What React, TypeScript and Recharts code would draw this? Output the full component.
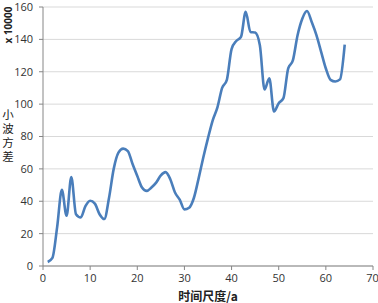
import React from 'react';
import { LineChart, Line, XAxis, YAxis, CartesianGrid } from 'recharts';

// 时间尺度 (a)
const scales = [
    1, 2, 3, 4, 5, 6, 7, 8, 9, 10,
    11, 12, 13, 14, 15, 16, 17, 18, 19, 20,
    21, 22, 23, 24, 25, 26, 27, 28, 29, 30,
    31, 32, 33, 34, 35, 36, 37, 38, 39, 40,
    41, 42, 43, 44, 45, 46, 47, 48, 49, 50,
    51, 52, 53, 54, 55, 56, 57, 58, 59, 60,
    61, 62, 63, 64,
];

// 小波方差 (x 10000)
const variance = [
    2.5, 5, 24, 47, 31, 55, 32, 30, 37, 40.3,
    38.5, 32, 29, 42, 60, 70, 72.5, 71, 63, 55.6,
    48.5, 46.4, 48.5, 51.5, 56, 58, 53.6, 45.4, 41, 35,
    36, 42, 54, 67, 79, 90, 98, 110, 115, 134,
    139, 141.5, 157, 144.6, 144.2, 136.4, 109, 116, 95.5, 100.6,
    103.7, 122, 127, 142.6, 152.8, 157.5, 150.7, 142.6, 132.3, 122,
    115, 114, 115.3, 136.8,
];

const xTicks = [0, 10, 20, 30, 40, 50, 60, 70];
const yTicks = [0, 20, 40, 60, 80, 100, 120, 140, 160];

const data = scales.map((s, i) => ({ scale: s, value: variance[i] }));

const FONT = '"Open Sans", "Noto Sans CJK SC", sans-serif';
const CJK = '"Noto Sans CJK SC", sans-serif';

export default function App() {
    return (
        <div style={{ position: 'absolute', left: 0, top: 0, width: 378, height: 303, background: '#fff', fontFamily: FONT, overflow: 'hidden' }}>
            <LineChart width={378} height={303} data={data} margin={{ top: 7, right: 5, bottom: 0, left: 0 }}>
                <CartesianGrid horizontal={true} vertical={false} stroke="#d9d9d9" />
                <XAxis
                    dataKey="scale"
                    type="number"
                    domain={[0, 70]}
                    ticks={xTicks}
                    height={37}
                    tickSize={4}
                    tickMargin={4}
                    stroke="#868686"
                    tick={{ fill: '#333', fontSize: 11, fontFamily: FONT }}
                />
                <YAxis
                    type="number"
                    domain={[0, 160]}
                    ticks={yTicks}
                    width={43}
                    tickSize={4}
                    tickMargin={6}
                    stroke="#868686"
                    tick={{ fill: '#333', fontSize: 11, fontFamily: FONT }}
                />
                <Line
                    type="monotone"
                    dataKey="value"
                    stroke="#4a7ebb"
                    strokeWidth={2.6}
                    dot={false}
                    isAnimationActive={false}
                />
            </LineChart>
            <div style={{ position: 'absolute', left: 1, top: 25, width: 14, height: 14, transform: 'translateY(-50%) rotate(-90deg)', display: 'flex', justifyContent: 'center', alignItems: 'center' }}>
                <span style={{ whiteSpace: 'nowrap', fontSize: 10, lineHeight: '12px', fontWeight: 'bold', color: '#222' }}>x 10000</span>
            </div>
            <div style={{ position: 'absolute', left: 1, top: 109, width: 14, writingMode: 'vertical-rl', fontSize: 11.5, lineHeight: '14px', letterSpacing: 2.3, color: '#222', fontFamily: CJK }}>
                小波方差
            </div>
            <div style={{ position: 'absolute', left: 158, top: 289, width: 100, height: 14, textAlign: 'center', fontSize: 12, lineHeight: '14px', fontWeight: 'bold', color: '#222', fontFamily: CJK }}>
                时间尺度/a
            </div>
        </div>
    );
}
